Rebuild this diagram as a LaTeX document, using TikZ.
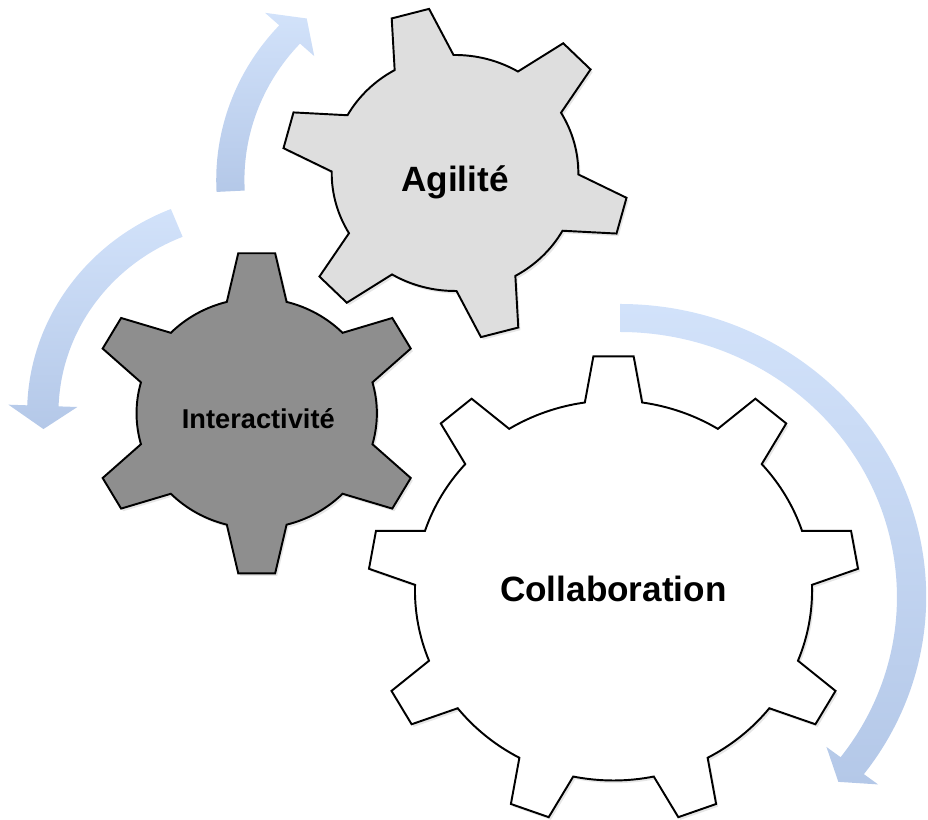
\documentclass[tikz,border=0pt]{standalone}
\usepackage{fontspec}
\setmainfont{Liberation Sans}
\usepackage{tikz}
\usetikzlibrary{shadows}

\definecolor{gearlight}{RGB}{222,222,222}
\definecolor{geardark}{RGB}{142,142,142}
\definecolor{arrowtop}{RGB}{210,226,250}
\definecolor{arrowbottom}{RGB}{180,200,232}

\tikzset{
  gearbody/.style={draw=black, line width=1.1pt, line join=miter,
    drop shadow={opacity=0.2, shadow xshift=1.2pt, shadow yshift=-1.5pt}},
  gearlabel/.style={font=\bfseries\fontsize{20}{24}\selectfont, anchor=base, inner sep=0pt},
  bandarrow/.style={top color=arrowtop, bottom color=arrowbottom},
}

% #1 fill, #2 centre, #3 teeth, #4 first tooth, #5 tip radius, #6 root radius, #7 tip half angle, #8 root half angle
\newcommand{\drawgear}[8]{%
  \begin{scope}[shift={#2}, xscale=1.045]
    \draw[gearbody, #1] ({#4-#8}:#6)
      \foreach \k in {1,...,#3} {
        -- ({#4+(\k-1)*360/#3-#7}:#5) -- ({#4+(\k-1)*360/#3+#7}:#5)
        -- ({#4+(\k-1)*360/#3+#8}:#6)
        arc[start angle={#4+(\k-1)*360/#3+#8}, end angle={#4+\k*360/#3-#8}, radius=#6]
      } -- cycle;
  \end{scope}}

% #1 centre, #2 radius, #3 half width, #4 tail, #5 head base, #6 tip, #7 head half span
\newcommand{\turnarrow}[7]{%
  \begin{scope}[shift={#1}, xscale=1.045]
    \shade[bandarrow] ({#4}:{#2+#3}) arc[start angle=#4, end angle=#5, radius={#2+#3}]
      -- ({#5}:{#2+#7}) -- ({#6}:#2) -- ({#5}:{#2-#7})
      -- ({#5}:{#2-#3}) arc[start angle=#5, end angle=#4, radius={#2-#3}] -- cycle;
  \end{scope}}

\begin{document}
\begin{tikzpicture}[x=0.02cm, y=0.02cm]
  \useasboundingbox (0,0) rectangle (928,820);

  \turnarrow{(455,640)}{215}{13.5}{183}{137.4}{131.3}{32}
  \turnarrow{(257,407)}{205}{15}{112}{178}{184.5}{33}
  \turnarrow{(620,223)}{279}{14}{90}{-37.2}{-41.5}{31}

  \drawgear{fill=white}{(613.5,229.5)}{9}{90}{235}{190}{4.7}{8.3}
  \drawgear{fill=geardark}{(256.7,406.7)}{6}{90}{161}{115}{6.3}{14.4}
  \drawgear{fill=gearlight}{(455,647)}{6}{105}{166}{118}{6.4}{14.3}

  \node[gearlabel] (agilite) at (455,628.3) {Agilité};
  \node[gearlabel, font=\bfseries\fontsize{15.5}{18}\selectfont] (interactivite) at (258.3,391.7) {Interactivité};
  \node[gearlabel] (collaboration) at (613.3,218.3) {Collaboration};
\end{tikzpicture}
\end{document}
